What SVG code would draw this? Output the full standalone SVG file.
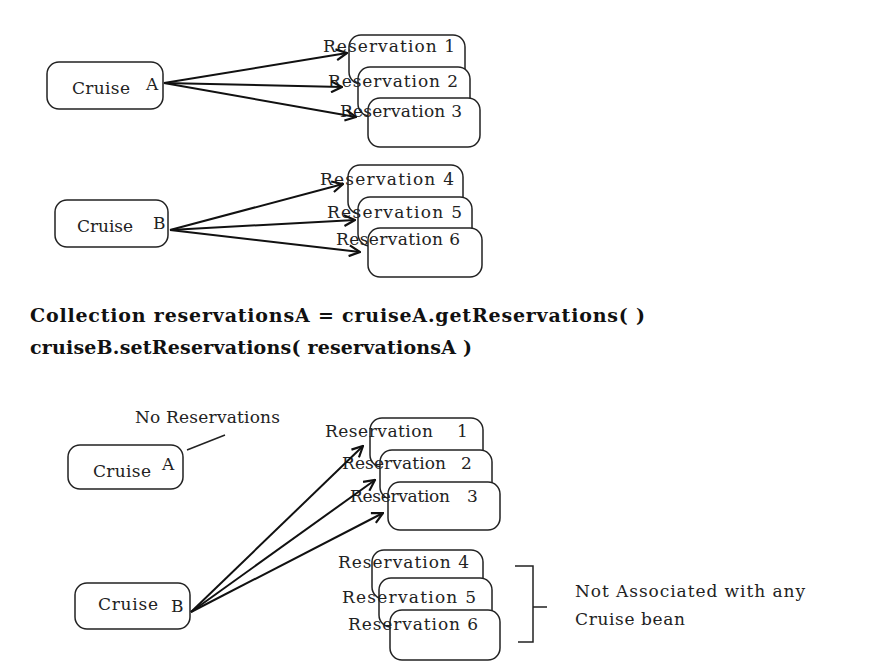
<svg xmlns="http://www.w3.org/2000/svg" width="881" height="667" viewBox="0 0 881 667">
  <style>
    .box { fill: #fff; stroke: #222; stroke-width: 1.5; }
    .lbl { font-family: "DejaVu Serif", "Liberation Serif", serif; font-size: 17px; fill: #222; }
    .code { font-family: "DejaVu Serif", "Liberation Serif", serif; font-size: 19px; font-weight: bold; fill: #111; }
    .edge { stroke: #111; stroke-width: 2; fill: none; marker-end: url(#open); }
    .thin { stroke: #222; stroke-width: 1.5; fill: none; }
  </style>
  <defs>
    <marker id="open" viewBox="0 0 12 12" refX="11" refY="6" markerWidth="13" markerHeight="13" markerUnits="userSpaceOnUse" orient="auto">
      <path d="M1,1 L11,6 L1,11" fill="none" stroke="#111" stroke-width="2"/>
    </marker>
  </defs>
  <rect width="881" height="667" fill="#fff"/>

  <!-- upper diagram: cruise A with reservations 1-3 -->
  <g id="cruiseA-top">
    <rect class="box" x="47" y="62" width="116" height="47" rx="12"/>
    <text class="lbl" x="72" y="94" textLength="58">Cruise</text>
    <text class="lbl" x="146" y="90">A</text>
  </g>
  <g id="res1-top">
    <rect class="box" x="349" y="35" width="116" height="49" rx="12"/>
    <text class="lbl" x="323" y="52" textLength="132">Reservation 1</text>
  </g>
  <g id="res2-top">
    <rect class="box" x="358" y="67" width="112" height="49" rx="12"/>
    <text class="lbl" x="328" y="87" textLength="130">Reservation 2</text>
  </g>
  <g id="res3-top">
    <rect class="box" x="368" y="98" width="112" height="49" rx="12"/>
    <text class="lbl" x="340" y="117" textLength="122">Reservation 3</text>
  </g>

  <!-- upper diagram: cruise B with reservations 4-6 -->
  <g id="cruiseB-top">
    <rect class="box" x="55" y="200" width="113" height="47" rx="12"/>
    <text class="lbl" x="77" y="232" textLength="56">Cruise</text>
    <text class="lbl" x="153" y="229">B</text>
  </g>
  <g id="res4-top">
    <rect class="box" x="348" y="165" width="115" height="49" rx="12"/>
    <text class="lbl" x="320" y="185" textLength="134">Reservation 4</text>
  </g>
  <g id="res5-top">
    <rect class="box" x="358" y="197" width="114" height="49" rx="12"/>
    <text class="lbl" x="327" y="218" textLength="135">Reservation 5</text>
  </g>
  <g id="res6-top">
    <rect class="box" x="368" y="228" width="114" height="49" rx="12"/>
    <text class="lbl" x="336" y="245" textLength="124">Reservation 6</text>
  </g>

  <!-- code statements -->
  <g id="code">
    <text class="code" x="30" y="322" textLength="615">Collection reservationsA = cruiseA.getReservations( )</text>
    <text class="code" x="30" y="354" textLength="442">cruiseB.setReservations( reservationsA )</text>
  </g>

  <!-- lower diagram: after the reassignment -->
  <g id="cruiseA-bottom">
    <rect class="box" x="68" y="445" width="115" height="44" rx="12"/>
    <text class="lbl" x="93" y="477" textLength="58">Cruise</text>
    <text class="lbl" x="162" y="470">A</text>
  </g>
  <g id="note-noReservations">
    <text class="lbl" x="135" y="423" textLength="145">No Reservations</text>
    <line class="thin" x1="187" y1="450" x2="225" y2="435"/>
  </g>
  <g id="res1-bottom">
    <rect class="box" x="370" y="418" width="113" height="49" rx="12"/>
    <text class="lbl" x="325" y="437" textLength="108">Reservation</text>
    <text class="lbl" x="457" y="437">1</text>
  </g>
  <g id="res2-bottom">
    <rect class="box" x="380" y="450" width="112" height="49" rx="12"/>
    <text class="lbl" x="342" y="469" textLength="104">Reservation</text>
    <text class="lbl" x="461" y="469">2</text>
  </g>
  <g id="res3-bottom">
    <rect class="box" x="388" y="482" width="112" height="48" rx="12"/>
    <text class="lbl" x="350" y="502" textLength="100">Reservation</text>
    <text class="lbl" x="467" y="502">3</text>
  </g>
  <g id="cruiseB-bottom">
    <rect class="box" x="75" y="583" width="115" height="46" rx="12"/>
    <text class="lbl" x="98" y="610" textLength="60">Cruise</text>
    <text class="lbl" x="171" y="612">B</text>
  </g>
  <g id="res4-bottom">
    <rect class="box" x="372" y="550" width="111" height="49" rx="12"/>
    <text class="lbl" x="338" y="568" textLength="131">Reservation 4</text>
  </g>
  <g id="res5-bottom">
    <rect class="box" x="379" y="578" width="113" height="49" rx="12"/>
    <text class="lbl" x="342" y="603" textLength="134">Reservation 5</text>
  </g>
  <g id="res6-bottom">
    <rect class="box" x="390" y="610" width="110" height="50" rx="12"/>
    <text class="lbl" x="348" y="630" textLength="130">Reservation 6</text>
  </g>
  <g id="note-unassociated">
    <path class="thin" d="M515,566 H533 V642 H518 M533,607 H547"/>
    <text class="lbl" x="575" y="597" textLength="230">Not Associated with any</text>
    <text class="lbl" x="575" y="625" textLength="110">Cruise bean</text>
  </g>

  <!-- connectors -->
  <g id="connectors">
    <line class="edge" x1="164" y1="83" x2="347" y2="53"/>
    <line class="edge" x1="164" y1="83" x2="342" y2="87"/>
    <line class="edge" x1="164" y1="83" x2="356" y2="117"/>
    <line class="edge" x1="170" y1="230" x2="343" y2="184"/>
    <line class="edge" x1="170" y1="230" x2="355" y2="220"/>
    <line class="edge" x1="170" y1="230" x2="360" y2="252"/>
    <line class="edge" x1="191" y1="612" x2="363" y2="446"/>
    <line class="edge" x1="191" y1="612" x2="375" y2="480"/>
    <line class="edge" x1="191" y1="612" x2="383" y2="513"/>
  </g>
</svg>
